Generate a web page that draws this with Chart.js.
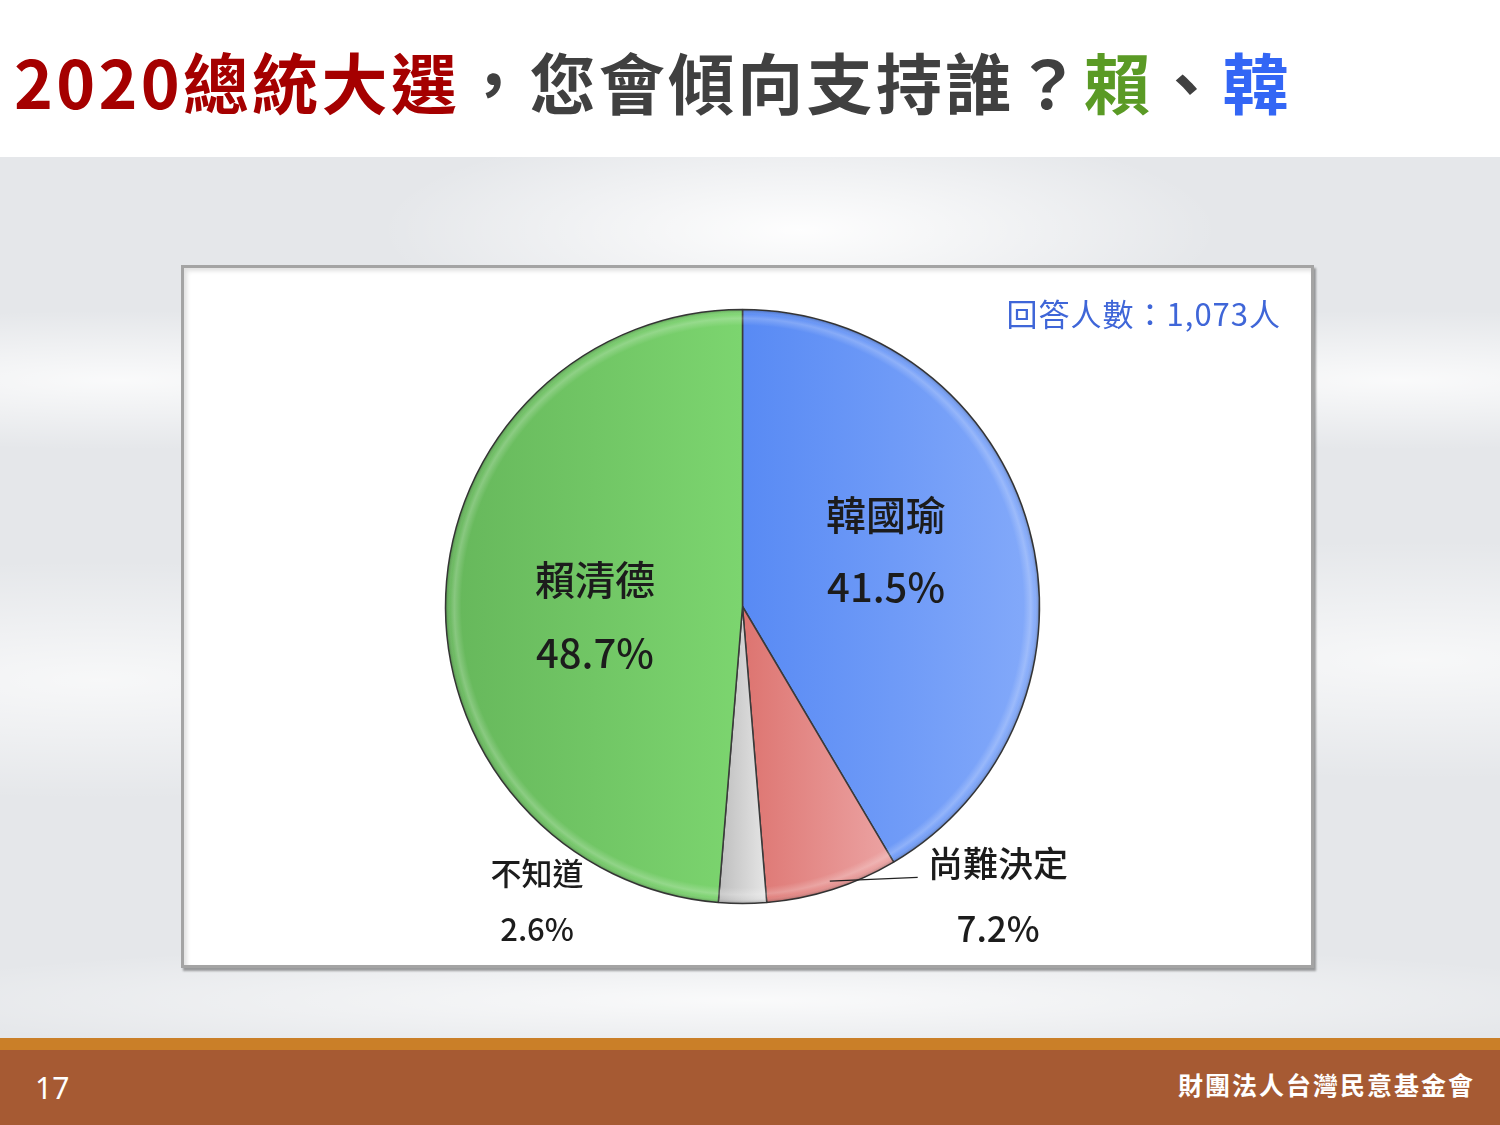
<!DOCTYPE html>
<html lang="zh-Hant">
<head>
<meta charset="utf-8">
<title>2020總統大選，您會傾向支持誰？賴、韓</title>
<script src="https://cdn.jsdelivr.net/npm/chart.js@4/dist/chart.umd.min.js"></script>
<style>
  html, body { margin: 0; padding: 0; }
  body {
    width: 1500px; height: 1125px; position: relative; overflow: hidden;
    font-family: "Noto Sans CJK TC", "Noto Sans", sans-serif;
    background:
      radial-gradient(ellipse 420px 110px at 800px 230px, rgba(255,255,255,0.95), rgba(255,255,255,0) 100%),
      radial-gradient(ellipse 520px 70px at 120px 380px, rgba(255,255,255,0.8), rgba(255,255,255,0) 100%),
      radial-gradient(ellipse 520px 70px at 1400px 380px, rgba(255,255,255,0.8), rgba(255,255,255,0) 100%),
      radial-gradient(ellipse 600px 120px at 100px 680px, rgba(255,255,255,0.7), rgba(255,255,255,0) 100%),
      radial-gradient(ellipse 600px 120px at 1420px 660px, rgba(255,255,255,0.7), rgba(255,255,255,0) 100%),
      radial-gradient(ellipse 900px 60px at 750px 1000px, rgba(255,255,255,0.8), rgba(255,255,255,0) 100%),
      #e5e7ea;
  }
  #header {
    position: absolute; left: 0; top: 0; width: 1500px; height: 157px; background: #ffffff;
  }
  #title {
    position: absolute; left: 14px; top: 32px; margin: 0;
    font-size: 66px; font-weight: 700; letter-spacing: 3.3px; line-height: 96px;
    white-space: nowrap; color: #404040;
  }
  #title .red { color: #a50000; }
  #title .green { color: #5a9a25; }
  #title .blue { color: #3366f5; }
  #box {
    position: absolute; left: 181px; top: 265px; width: 1127px; height: 697px;
    background: #ffffff;
    border: 3px solid #a4a4a4;
    box-shadow: 2px 3px 2px rgba(0,0,0,0.35), inset 3px 3px 4px rgba(0,0,0,0.12);
  }
  #chart { position: absolute; left: 0; top: 0; }
  #footer-stripe {
    position: absolute; left: 0; top: 1038px; width: 1500px; height: 12px; background: #ca7f28;
  }
  #footer {
    position: absolute; left: 0; top: 1050px; width: 1500px; height: 75px; background: #a65a33; color: #ffffff;
  }
  #page-no { position: absolute; left: 35px; top: 18px; font-family: "Noto Sans", sans-serif; font-size: 30px; line-height: 40px; }
  #org { position: absolute; right: 25px; top: 14px; font-size: 25px; font-weight: 700; line-height: 40px; letter-spacing: 2px; }
</style>
</head>
<body>
<div id="header">
  <h1 id="title"><span class="red">2020總統大選</span>，您會傾向支持誰？<span class="green">賴</span>、<span class="blue">韓</span></h1>
</div>
<div id="box"><canvas id="chart" width="1127" height="697"></canvas></div>
<div id="footer-stripe"></div>
<div id="footer"><div id="page-no">17</div><div id="org">財團法人台灣民意基金會</div></div>

<script>
// Survey result: preferred candidate, 2020 presidential election
const categories = ['韓國瑜', '尚難決定', '不知道', '賴清德'];
const shares = [41.5, 7.2, 2.6, 48.7];
const respondents = 1073;

// Slice fills: [left colour, right colour, gradient start (×R from centre), gradient end]
const sliceFills = [
  ['#588af4', '#84aafa', 0, 1],
  ['#dd7470', '#eda8a8', 0, 0.55],
  ['#b9b9b9', '#eaeaea', -0.1, 0.1],
  ['#66b75b', '#7cd56f', -1, 0]
];

// Label placement: [angle in degrees clockwise from 12 o'clock, distance ×R, font px, line gap]
const labelPlaces = [
  [68.9, 0.518, 40, 72],
  [138.6, 1.301, 35, 65],
  [214.9, 1.209, 31, 56],
  [266.1, 0.498, 40, 73]
];
// Leader line for the second slice: from its mid-angle at 0.97R to (angle, ×R)
const leaderEnd = [147.1, 1.086];

const FONT = '"Noto Sans CJK TC", "Noto Sans", sans-serif';

function fillFor(context) {
  const chart = context.chart;
  const area = chart.chartArea;
  if (!area) return sliceFills[context.dataIndex][0];
  const meta = chart.getDatasetMeta(0);
  const arc = meta.data[context.dataIndex];
  const cx = (area.left + area.right) / 2;
  const R = (arc && arc.outerRadius) || Math.min(area.width, area.height) / 2;
  const f = sliceFills[context.dataIndex];
  const g = chart.ctx.createLinearGradient(cx + f[2] * R, 0, cx + f[3] * R, 0);
  g.addColorStop(0, f[0]);
  g.addColorStop(1, f[1]);
  return g;
}

function polar(arc, deg, k) {
  const a = (deg - 90) * Math.PI / 180;
  return [arc.x + Math.cos(a) * arc.outerRadius * k, arc.y + Math.sin(a) * arc.outerRadius * k];
}

const pieDecor = {
  id: 'pieDecor',
  afterDatasetsDraw(chart) {
    const ctx = chart.ctx;
    const meta = chart.getDatasetMeta(0);
    // soft bevel along the outer rim of each slice
    meta.data.forEach(arc => {
      const R = arc.outerRadius;
      ctx.save();
      ctx.beginPath();
      ctx.moveTo(arc.x, arc.y);
      ctx.arc(arc.x, arc.y, R, arc.startAngle, arc.endAngle);
      ctx.closePath();
      ctx.clip();
      const g = ctx.createRadialGradient(arc.x, arc.y, R - 16, arc.x, arc.y, R);
      g.addColorStop(0, 'rgba(255,255,255,0)');
      g.addColorStop(0.45, 'rgba(255,255,255,0.22)');
      g.addColorStop(0.7, 'rgba(255,255,255,0.05)');
      g.addColorStop(1, 'rgba(0,0,0,0.25)');
      ctx.fillStyle = g;
      ctx.fillRect(arc.x - R, arc.y - R, 2 * R, 2 * R);
      ctx.restore();
    });

    // leader line for the small slice on the lower right
    const red = meta.data[1];
    const mid = ((red.startAngle + red.endAngle) / 2) * 180 / Math.PI + 90;
    const p0 = polar(red, mid, 0.97);
    const p1 = polar(red, leaderEnd[0], leaderEnd[1]);
    ctx.save();
    ctx.strokeStyle = '#222222';
    ctx.lineWidth = 1.2;
    ctx.beginPath();
    ctx.moveTo(p0[0], p0[1]);
    ctx.lineTo(p1[0], p1[1]);
    ctx.stroke();
    ctx.restore();

    // category name and share for every slice
    meta.data.forEach((arc, i) => {
      const [deg, k, size, gap] = labelPlaces[i];
      const [x, y] = polar(arc, deg, k);
      ctx.save();
      ctx.fillStyle = '#1c1c1c';
      ctx.textAlign = 'center';
      ctx.textBaseline = 'middle';
      ctx.font = '500 ' + size + 'px ' + FONT;
      ctx.fillText(categories[i], x, y - gap / 2);
      ctx.fillText(shares[i].toFixed(1) + '%', x, y + gap / 2);
      ctx.restore();
    });

    // respondent count, top right
    ctx.save();
    ctx.fillStyle = '#3f66d8';
    ctx.textAlign = 'right';
    ctx.textBaseline = 'middle';
    ctx.font = '400 31px ' + FONT;
    if ('letterSpacing' in ctx) ctx.letterSpacing = '1px';
    ctx.fillText('回答人數：' + respondents.toLocaleString('en-US') + '人', 1097, 46);
    ctx.restore();
  }
};

new Chart(document.getElementById('chart'), {
  type: 'pie',
  data: {
    labels: categories,
    datasets: [{
      data: shares,
      backgroundColor: fillFor,
      borderColor: '#3a3a3a',
      borderWidth: 1.5,
      radius: 297
    }]
  },
  options: {
    responsive: false,
    animation: false,
    rotation: 0,
    layout: { padding: { left: 261.5, right: 271.5, top: 41.5, bottom: 61.5 } },
    plugins: {
      legend: { display: false },
      tooltip: { enabled: false }
    }
  },
  plugins: [pieDecor]
});
</script>
</body>
</html>
